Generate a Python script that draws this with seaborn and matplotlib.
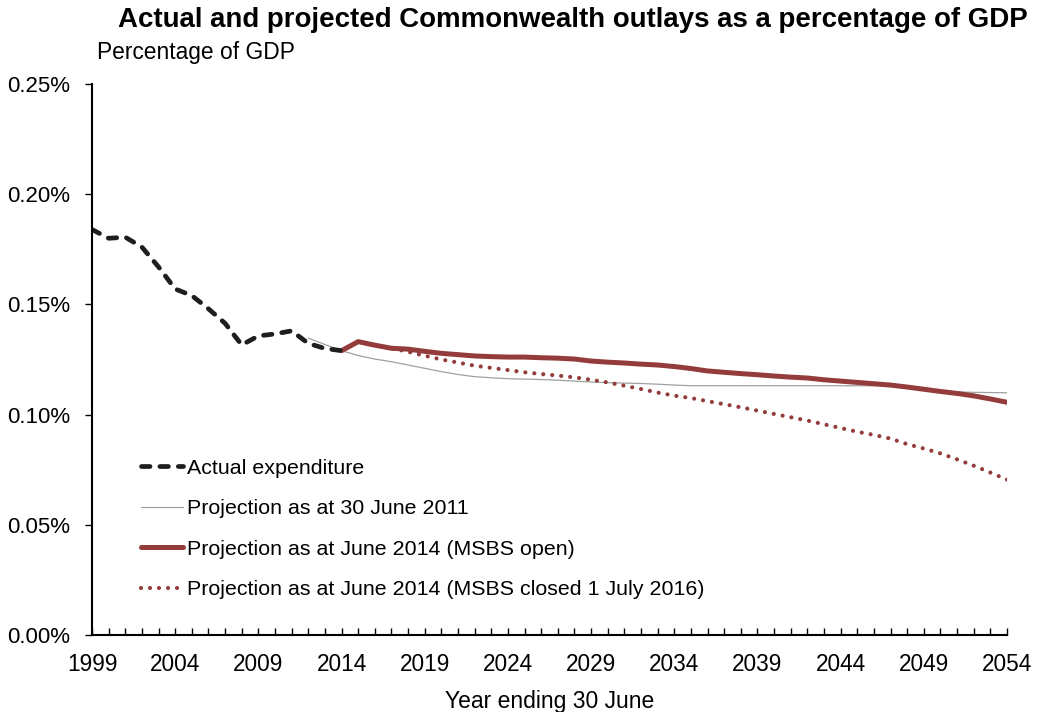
import numpy as np
import pandas as pd
import matplotlib
matplotlib.use("Agg")
import matplotlib.pyplot as plt
import seaborn as sns
from matplotlib.ticker import FuncFormatter, MultipleLocator

# ---- data (percent of GDP) ----
actual_years = list(range(1999, 2015))
actual_vals = [0.184, 0.180, 0.1805, 0.176, 0.167, 0.157, 0.154, 0.148, 0.1414,
               0.1316, 0.1357, 0.1366, 0.138, 0.1323, 0.130, 0.129]

proj2011_years = list(range(2012, 2055))
proj2011_vals = [0.1347, 0.1318, 0.129, 0.1268, 0.1252, 0.1240, 0.1225, 0.1210,
                 0.1195, 0.1182, 0.1172, 0.1167, 0.1163, 0.1161, 0.1159, 0.1156,
                 0.1152, 0.1148, 0.1145, 0.1143, 0.1141, 0.1138, 0.1134, 0.1131,
                 0.1131, 0.1131, 0.1131, 0.1131, 0.1131, 0.1131, 0.1131, 0.1131,
                 0.1131, 0.1131, 0.1131, 0.1131, 0.1122, 0.1112, 0.1106, 0.1103,
                 0.1101, 0.1100, 0.1099]

proj2014_years = list(range(2014, 2055))
open_vals = [0.129, 0.1331, 0.1315, 0.1301, 0.1297, 0.1287, 0.1278, 0.1272, 0.1266,
             0.1263, 0.1261, 0.1261, 0.1258, 0.1256, 0.1252, 0.1243, 0.1238, 0.1234,
             0.1229, 0.1225, 0.1218, 0.1209, 0.1198, 0.1192, 0.1186, 0.1181, 0.1175,
             0.1170, 0.1166, 0.1158, 0.1152, 0.1146, 0.1140, 0.1134, 0.1125, 0.1115,
             0.1105, 0.1096, 0.1085, 0.1071, 0.1056]
closed_vals = [0.129, 0.1331, 0.1315, 0.1301, 0.1285, 0.1267, 0.1250, 0.1236, 0.1222,
               0.1212, 0.1202, 0.1192, 0.1184, 0.1177, 0.1169, 0.1158, 0.1146, 0.1131,
               0.1116, 0.1100, 0.1086, 0.1075, 0.1061, 0.1047, 0.1033, 0.1018, 0.1003,
               0.0988, 0.0973, 0.0956, 0.0939, 0.0922, 0.0908, 0.0891, 0.0866, 0.0846,
               0.0824, 0.0797, 0.0768, 0.0737, 0.0705]

labels = ["Actual expenditure",
          "Projection as at 30 June 2011",
          "Projection as at June 2014 (MSBS open)",
          "Projection as at June 2014 (MSBS closed 1 July 2016)"]
title = "Actual and projected Commonwealth outlays as a percentage of GDP"
ylabel = "Percentage of GDP"
xlabel = "Year ending 30 June"
xticks = list(range(1999, 2055, 5))

sns.set_style("white")
plt.rcParams['font.family'] = ['Liberation Sans', 'DejaVu Sans']
plt.rcParams['text.color'] = 'black'
plt.rcParams['axes.labelcolor'] = 'black'
plt.rcParams['xtick.color'] = 'black'
plt.rcParams['ytick.color'] = 'black'

RED = "#943c3c"

fig = plt.figure(figsize=(10.4, 7.12), dpi=100)
ax = fig.add_axes([92/1040, 1-635/712, (1007-92)/1040, (635-84)/712])

sns.lineplot(x=proj2011_years, y=proj2011_vals, ax=ax, color="#a0a0a0", lw=0.9,
             label=labels[1])
sns.lineplot(x=proj2014_years, y=closed_vals, ax=ax, color=RED, lw=3.0,
             linestyle=(0, (0.01, 2.15)), dash_capstyle="round", label=labels[3])
sns.lineplot(x=proj2014_years, y=open_vals, ax=ax, color=RED, lw=3.6,
             label=labels[2])
sns.lineplot(x=actual_years, y=actual_vals, ax=ax, color="#1e1e1e", lw=3.4,
             linestyle=(0, (1.8, 2.1)), dash_capstyle="round", label=labels[0])

ax.set_xlim(1999, 2054)
ax.set_ylim(0, 0.25)
ax.yaxis.set_major_locator(MultipleLocator(0.05))
ax.yaxis.set_major_formatter(FuncFormatter(lambda v, p: f"{v:.2f}%"))
ax.set_xticks(xticks)
ax.set_xticklabels([str(t) for t in xticks])
ax.set_xticks(range(1999, 2055), minor=True)
ax.tick_params(axis="x", which="both", direction="in", length=5, width=1,
               color="black", labelsize=16.3, pad=13, bottom=True)
ax.tick_params(axis="y", which="major", direction="out", length=5, width=1,
               color="black", labelsize=16, pad=11, left=True)

for s in ["top", "right"]:
    ax.spines[s].set_visible(False)
for s in ["left", "bottom"]:
    ax.spines[s].set_color("black")
    ax.spines[s].set_linewidth(1.5)

ax.set_xlabel(xlabel, fontsize=16.5, labelpad=10)
ax.set_ylabel("")

fig.text(572.5/1040, 1-20/712, title, ha="center", va="center",
         fontsize=19.9, fontweight="bold")
fig.text(97/1040, 1-52/712, ylabel, ha="left", va="center", fontsize=16.4)

handles, labs = ax.get_legend_handles_labels()
order = [labs.index(l) for l in labels]
leg = ax.legend([handles[i] for i in order], [labs[i] for i in order],
                loc="upper left", bbox_to_anchor=(40/915, (635-450)/551),
                frameon=False, fontsize=15.4, handlelength=2.0, handletextpad=0.15,
                labelspacing=1.01, borderaxespad=0)

fig.savefig("out.png", dpi=100)
